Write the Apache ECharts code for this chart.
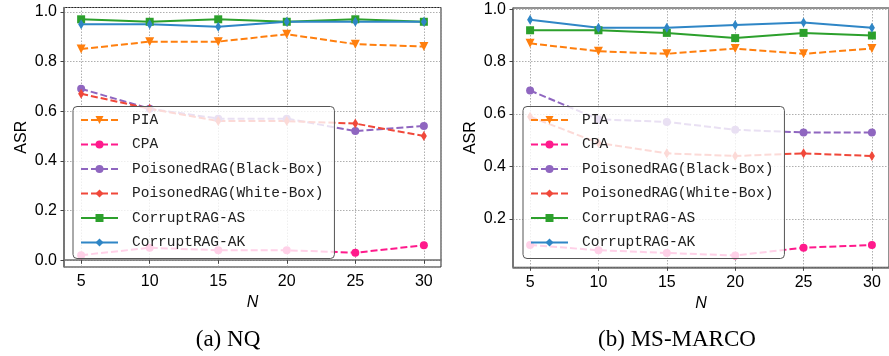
<!DOCTYPE html>
<html>
<head>
<meta charset="utf-8">
<script src="https://cdn.jsdelivr.net/npm/echarts@6/dist/echarts.min.js"></script>
<style>
  html, body { margin: 0; padding: 0; background: #fff; }
  #chart { width: 889px; height: 356px; }
</style>
</head>
<body>
<div id="chart"></div>
<script>
// N values (x axis)
const nValues = [5, 10, 15, 20, 25, 30];
const legendNames = ["PIA", "CPA", "PoisonedRAG(Black-Box)", "PoisonedRAG(White-Box)", "CorruptRAG-AS", "CorruptRAG-AK"];
const yTicks = [0.0, 0.2, 0.4, 0.6, 0.8, 1.0];

// (a) NQ
const nqPIA = [0.85, 0.88, 0.88, 0.91, 0.87, 0.86];
const nqCPA = [0.02, 0.05, 0.04, 0.04, 0.03, 0.06];
const nqBlack = [0.69, 0.61, 0.57, 0.57, 0.52, 0.54];
const nqWhite = [0.67, 0.61, 0.56, 0.56, 0.55, 0.50];
const nqAS = [0.97, 0.96, 0.97, 0.96, 0.97, 0.96];
const nqAK = [0.95, 0.95, 0.94, 0.96, 0.96, 0.96];

// (b) MS-MARCO
const msPIA = [0.87, 0.84, 0.83, 0.85, 0.83, 0.85];
const msCPA = [0.10, 0.08, 0.07, 0.06, 0.09, 0.10];
const msBlack = [0.69, 0.58, 0.57, 0.54, 0.53, 0.53];
const msWhite = [0.59, 0.49, 0.45, 0.44, 0.45, 0.44];
const msAS = [0.92, 0.92, 0.91, 0.89, 0.91, 0.90];
const msAK = [0.96, 0.93, 0.93, 0.94, 0.95, 0.93];

// line styles per method
const styleOf = {
  "PIA": { color: "#ff7f0e", dash: [7, 3], symbol: "triangle", rotate: 180, size: 9 },
  "CPA": { color: "#ff1a8c", dash: [7, 3], symbol: "circle", rotate: 0, size: 8 },
  "PoisonedRAG(Black-Box)": { color: "#8f66c0", dash: [7, 3], symbol: "circle", rotate: 0, size: 8 },
  "PoisonedRAG(White-Box)": { color: "#f0483a", dash: [7, 3], symbol: "diamond", rotate: 0, size: [6, 10] },
  "CorruptRAG-AS": { color: "#2ca02c", dash: "solid", symbol: "rect", rotate: 0, size: 8 },
  "CorruptRAG-AK": { color: "#2f86c6", dash: "solid", symbol: "diamond", rotate: 0, size: [6, 10] },
};

const pairs = (ys) => nValues.map((x, i) => [x, ys[i]]);

function makeSeries(idx, groups) {
  return legendNames.map((name, k) => {
    const s = styleOf[name];
    return {
      name,
      type: "line",
      xAxisIndex: idx,
      yAxisIndex: idx,
      data: pairs(groups[k]),
      symbol: s.symbol,
      symbolSize: s.size,
      symbolRotate: s.rotate,
      showAllSymbol: true,
      lineStyle: { color: s.color, width: 2, type: s.dash },
      itemStyle: { color: s.color, borderWidth: 0 },
      emphasis: { disabled: true },
      animation: false,
    };
  });
}

const gridLine = { show: true, lineStyle: { color: "#9a9a9a", width: 0.8, type: [1.5, 1.5] } };
const tickFont = { fontFamily: "Liberation Sans", fontSize: 16, color: "#000" };

function xAxisOf(idx) {
  return {
    type: "value",
    gridIndex: idx,
    min: 3.75,
    max: 31.25,
    splitNumber: 5,
    name: "N",
    nameLocation: "middle",
    nameGap: 27,
    nameTextStyle: { fontFamily: "Liberation Sans", fontStyle: "italic", fontSize: 16, color: "#000" },
    axisLine: { show: true, lineStyle: { color: "#6e6e6e", width: 1.5 } },
    axisTick: { show: true, length: 3.5, lineStyle: { color: "#444" } },
    axisLabel: Object.assign({ margin: 7, showMinLabel: false, showMaxLabel: false,
      formatter: (v) => (nValues.includes(v) ? String(v) : "") }, tickFont),
    splitLine: gridLine,
  };
}

function yAxisOf(idx, min, max) {
  return {
    type: "value",
    gridIndex: idx,
    min,
    max,
    splitNumber: 5,
    name: "ASR",
    nameLocation: "middle",
    nameGap: 34,
    nameTextStyle: { fontFamily: "Liberation Sans", fontSize: 16, color: "#000" },
    axisLine: { show: true, lineStyle: { color: "#6e6e6e", width: 1.5 } },
    axisTick: { show: true, length: 3.5, lineStyle: { color: "#444" } },
    axisLabel: Object.assign({ margin: 7, showMinLabel: false, showMaxLabel: false,
      formatter: (v) => (yTicks.some((t) => Math.abs(t - v) < 1e-6) ? v.toFixed(1) : "") }, tickFont),
    splitLine: gridLine,
  };
}

function legendOf(left) {
  return {
    orient: "vertical",
    left,
    top: 106.5,
    data: legendNames,
    selectedMode: false,
    itemWidth: 37,
    itemHeight: 10,
    itemGap: 8.5,
    padding: [5.5, 11, 8, 7],
    backgroundColor: "rgba(255,255,255,0.8)",
    borderColor: "#555",
    borderWidth: 1,
    borderRadius: 4,
    textStyle: { fontFamily: "Liberation Mono", fontSize: 14.5, color: "#222", padding: [0, 0, 0, 9], lineHeight: 16 },
  };
}

const chart = echarts.init(document.getElementById("chart"), null, { renderer: "canvas" });
chart.setOption({
  backgroundColor: "#fff",
  animation: false,
  title: [
    { text: "(a) NQ", left: 223, top: 323, textAlign: "center",
      textStyle: { fontFamily: "Liberation Serif", fontWeight: "normal", fontSize: 23, color: "#000" } },
    { text: "(b) MS-MARCO", left: 672, top: 323, textAlign: "center",
      textStyle: { fontFamily: "Liberation Serif", fontWeight: "normal", fontSize: 23, color: "#000" } },
  ],
  grid: [
    { left: 64, right: 448, top: 7.5, bottom: 89, show: true, borderColor: "#222", borderWidth: 1, backgroundColor: "transparent" },
    { left: 513, right: -2, top: 8, bottom: 88.7, show: true, borderColor: "#222", borderWidth: 1, backgroundColor: "transparent" },
  ],
  xAxis: [xAxisOf(0), xAxisOf(1)],
  yAxis: [yAxisOf(0, -0.0275, 1.0175), yAxisOf(1, 0.015, 1.005)],
  legend: [legendOf(73), legendOf(523)],
  series: [
    ...makeSeries(0, [nqPIA, nqCPA, nqBlack, nqWhite, nqAS, nqAK]),
    ...makeSeries(1, [msPIA, msCPA, msBlack, msWhite, msAS, msAK]),
  ],
});
</script>
</body>
</html>
